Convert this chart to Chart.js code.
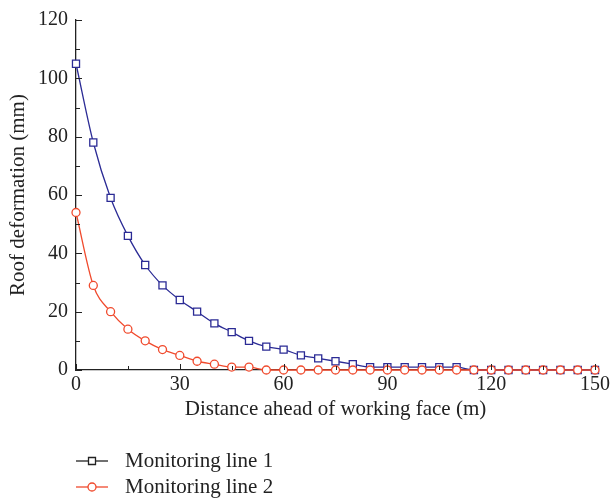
<!DOCTYPE html>
<html>
<head>
<meta charset="utf-8">
<script src="https://cdn.jsdelivr.net/npm/chart.js@4"></script>
<style>
  html, body { margin: 0; padding: 0; background: #fff; }
  #wrap { width: 613px; height: 499px; }
</style>
</head>
<body>
<div id="wrap"><canvas id="myChart" width="613" height="499"></canvas></div>
<script>
const distances = [0, 5, 10, 15, 20, 25, 30, 35, 40, 45, 50, 55, 60, 65, 70, 75, 80, 85, 90, 95, 100, 105, 110, 115, 120, 125, 130, 135, 140, 145, 150];
const line1 = [105, 78, 59, 46, 36, 29, 24, 20, 16, 13, 10, 8, 7, 5, 4, 3, 2, 1, 1, 1, 1, 1, 1, 0, 0, 0, 0, 0, 0, 0, 0];
const line2 = [54, 29, 20, 14, 10, 7, 5, 3, 2, 1, 1, 0, 0, 0, 0, 0, 0, 0, 0, 0, 0, 0, 0, 0, 0, 0, 0, 0, 0, 0, 0];
const xTicks = [0, 30, 60, 90, 120, 150];
const yTicks = [0, 20, 40, 60, 80, 100, 120];
const seriesNames = ['Monitoring line 1', 'Monitoring line 2'];

const blue = '#2b2b95';
const red = '#f04a2d';
const serif = '"Liberation Serif", "DejaVu Serif", serif';

const toPoints = (vals) => vals.map((v, i) => ({ x: distances[i], y: v }));

// inward tick marks, major + minor
const tickPlugin = {
  id: 'inTicks',
  afterDraw(chart) {
    const c = chart.ctx;
    const xs = chart.scales.x, ys = chart.scales.y;
    const area = chart.chartArea;
    c.save();
    c.strokeStyle = '#222';
    c.lineWidth = 1;
    c.beginPath();
    for (let v = 0; v <= 150; v += 15) {
      const px = Math.round(xs.getPixelForValue(v)) + 0.5;
      const len = v % 30 === 0 ? 6 : 4;
      c.moveTo(px, area.bottom);
      c.lineTo(px, area.bottom - len);
    }
    for (let v = 0; v <= 120; v += 10) {
      const py = Math.round(ys.getPixelForValue(v)) + 0.5;
      const len = v % 20 === 0 ? 6 : 4;
      c.moveTo(area.left, py);
      c.lineTo(area.left + len, py);
    }
    c.stroke();
    c.restore();
  }
};

// legend stacked below the axis title
const legendPlugin = {
  id: 'stackLegend',
  afterDraw(chart) {
    const c = chart.ctx;
    const rows = [
      { y: 461, color: '#222', shape: 'rect' },
      { y: 487, color: red, shape: 'circle' }
    ];
    c.save();
    rows.forEach((r, i) => {
      c.strokeStyle = r.color;
      c.lineWidth = 1.3;
      c.beginPath();
      c.moveTo(76, r.y);
      c.lineTo(108, r.y);
      c.stroke();
      c.fillStyle = '#fff';
      c.beginPath();
      if (r.shape === 'rect') {
        c.rect(88.5, r.y - 3.5, 7, 7);
      } else {
        c.arc(92, r.y, 4, 0, Math.PI * 2);
      }
      c.fill();
      c.stroke();
      c.fillStyle = '#222';
      c.font = '21px ' + serif;
      c.textBaseline = 'middle';
      c.fillText(seriesNames[i], 125, r.y);
    });
    c.restore();
  }
};

const ctx = document.getElementById('myChart');
new Chart(ctx, {
  type: 'line',
  data: {
    datasets: [
      {
        label: seriesNames[0],
        data: toPoints(line1),
        borderColor: blue,
        backgroundColor: '#fff',
        pointStyle: 'rect',
        pointRadius: 5,
        pointBorderWidth: 1.3,
        borderWidth: 1.3,
        cubicInterpolationMode: 'monotone',
        clip: false,
        order: 2
      },
      {
        label: seriesNames[1],
        data: toPoints(line2),
        borderColor: red,
        backgroundColor: '#fff',
        pointStyle: 'circle',
        pointRadius: 4,
        pointBorderWidth: 1.3,
        borderWidth: 1.3,
        cubicInterpolationMode: 'monotone',
        clip: false,
        order: 1
      }
    ]
  },
  options: {
    responsive: false,
    animation: false,
    layout: { padding: { left: 0, right: 16, top: 16, bottom: 77 } },
    plugins: { legend: { display: false }, tooltip: { enabled: false } },
    scales: {
      x: {
        type: 'linear',
        min: 0, max: 150,
        afterBuildTicks: (s) => { s.ticks = xTicks.map(v => ({ value: v })); },
        afterFit: (s) => { s.height = 52; },
        grid: { display: false, drawTicks: false },
        border: { display: true, color: '#222', width: 1.3 },
        ticks: { color: '#222', font: { family: serif, size: 20 }, padding: 3, maxRotation: 0 },
        title: { display: true, text: 'Distance ahead of working face (m)', color: '#222', font: { family: serif, size: 21 }, padding: { top: 0, bottom: 0 } }
      },
      y: {
        min: 0, max: 120,
        afterBuildTicks: (s) => { s.ticks = yTicks.map(v => ({ value: v })); },
        afterFit: (s) => { s.width = 76; },
        grid: { display: false, drawTicks: false },
        border: { display: true, color: '#222', width: 1.3 },
        ticks: { color: '#222', font: { family: serif, size: 20 }, padding: 8 },
        title: { display: true, text: 'Roof deformation (mm)', color: '#222', font: { family: serif, size: 21 }, padding: { top: 6, bottom: 0 } }
      }
    }
  },
  plugins: [tickPlugin, legendPlugin]
});
</script>
</body>
</html>
